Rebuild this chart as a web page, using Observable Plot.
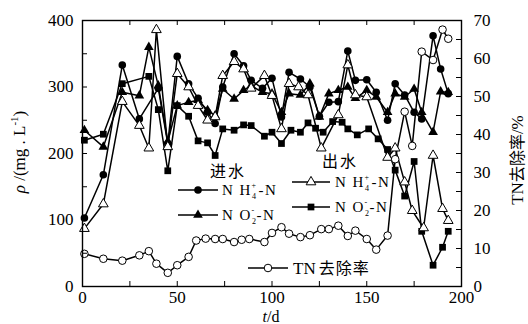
<!DOCTYPE html>
<html><head><meta charset="utf-8">
<script src="https://cdn.jsdelivr.net/npm/d3@7"></script>
<script src="https://cdn.jsdelivr.net/npm/@observablehq/plot@0.6"></script>
<style>body{margin:0;background:#fff}</style>
</head><body><div id="chart"></div>
<script>
// Tick values
const xTicks = [0, 50, 100, 150, 200];
const yTicks = [0, 100, 200, 300, 400];
const tnTicks = [0, 10, 20, 30, 40, 50, 60, 70];

// 进水 NH4+-N (filled circle)
const inNH4Days = [1, 11, 21, 30, 40, 45, 50, 56, 61, 66, 70, 74, 80, 85, 89, 95, 100, 105, 109, 115, 120, 125, 130, 135, 140, 144, 150, 155, 161, 165, 170, 175, 179, 185, 189, 193];
const inNH4 = [103, 168, 333, 252, 298, 215, 346, 305, 283, 262, 245, 300, 350, 332, 310, 298, 313, 255, 322, 312, 300, 256, 277, 278, 354, 310, 311, 292, 250, 305, 288, 262, 252, 377, 327, 290];

// 进水 NO2--N (filled triangle)
const inNO2Days = [1, 11, 21, 30, 35, 40, 45, 50, 56, 61, 66, 70, 74, 80, 85, 89, 95, 100, 105, 109, 115, 120, 125, 130, 135, 140, 144, 150, 155, 161, 165, 170, 175, 179, 185, 189, 193];
const inNO2 = [235, 210, 292, 287, 360, 302, 218, 272, 277, 280, 265, 257, 297, 282, 295, 302, 292, 290, 262, 290, 288, 305, 255, 290, 295, 300, 283, 295, 285, 262, 290, 285, 297, 262, 232, 293, 292];

// 出水 NH4+-N (open triangle)
const outNH4Days = [1, 11, 21, 30, 35, 39, 45, 50, 56, 61, 66, 70, 74, 80, 85, 89, 96, 100, 105, 109, 114, 119, 126, 135, 140, 144, 150, 161, 165, 170, 174, 180, 185, 190, 193];
const outNH4 = [87, 124, 278, 242, 208, 386, 210, 320, 300, 272, 250, 255, 317, 338, 327, 298, 317, 287, 237, 305, 300, 288, 208, 258, 333, 288, 285, 194, 208, 157, 114, 88, 197, 117, 99];

// 出水 NO2--N (filled square)
const outNO2Days = [1, 11, 21, 35, 40, 45, 50, 56, 61, 66, 70, 74, 80, 85, 89, 96, 100, 105, 110, 115, 119, 123, 127, 132, 137, 140, 145, 151, 156, 161, 165, 170, 175, 179, 185, 190, 193];
const outNO2 = [220, 229, 305, 316, 266, 174, 272, 256, 219, 216, 197, 237, 235, 243, 242, 226, 232, 215, 235, 232, 246, 238, 232, 248, 247, 237, 228, 237, 222, 206, 175, 136, 188, 83, 32, 59, 83];

// TN 去除率 (%), right axis (open circle)
const tnDays = [1, 11, 21, 30, 35, 39, 45, 50, 56, 60, 65, 70, 74, 80, 84, 88, 96, 100, 105, 109, 115, 120, 126, 130, 135, 140, 144, 150, 155, 161, 165, 170, 174, 179, 185, 190, 193];
const tnRate = [8.6, 7.3, 6.8, 8.2, 9.3, 6.0, 3.6, 5.6, 7.8, 12.1, 12.6, 12.5, 12.5, 11.7, 12.3, 12.5, 11.7, 14.1, 15.6, 13.9, 13.0, 13.5, 15.1, 15.1, 16.0, 13.3, 14.7, 12.5, 9.7, 13.4, 33.5, 46.0, 37.0, 61.8, 59.6, 67.6, 65.2];

const k = 400 / 70; // right axis (0–70 %) mapped onto left scale (0–400)
const zip = (ts, vs) => ts.map((t, i) => ({t, v: vs[i]}));
const dIn4 = zip(inNH4Days, inNH4);
const dIn2 = zip(inNO2Days, inNO2);
const dOut4 = zip(outNH4Days, outNH4);
const dOut2 = zip(outNO2Days, outNO2);
const dTN = zip(tnDays, tnRate.map(v => v * k));

const W = 528, H = 324, mL = 82, mR = 67, mT = 20, mB = 38;
const iw = W - mL - mR, ih = H - mT - mB;
const lineOpt = {x: "t", y: "v", stroke: "#000", strokeWidth: 1.5};

const plot = Plot.plot({
  width: W, height: H, marginLeft: mL, marginRight: mR, marginTop: mT, marginBottom: mB,
  style: {fontFamily: "'Liberation Serif', serif", fontSize: "17px", background: "#fff", color: "#000", overflow: "visible"},
  x: {domain: [0, 200], axis: null},
  y: {domain: [0, 400], axis: null},
  marks: [
    Plot.line(dTN, lineOpt),
    Plot.line(dOut2, lineOpt),
    Plot.line(dIn2, lineOpt),
    Plot.line(dIn4, lineOpt),
    Plot.line(dOut4, lineOpt),
    Plot.dot(dOut2, {x: "t", y: "v", symbol: "square", r: 3.8, fill: "#000", stroke: "none"}),
    Plot.dot(dIn2, {x: "t", y: "v", symbol: "triangle", r: 3.6, fill: "#000", stroke: "none"}),
    Plot.dot(dIn4, {x: "t", y: "v", symbol: "circle", r: 3.8, fill: "#000", stroke: "none"}),
    Plot.dot(dOut4, {x: "t", y: "v", symbol: "triangle", r: 3.6, fill: "#fff", stroke: "#000", strokeWidth: 1}),
    Plot.dot(dTN, {x: "t", y: "v", symbol: "circle", r: 3.8, fill: "#fff", stroke: "#000", strokeWidth: 1}),
    // inward ticks
    Plot.tickX(d3.range(0, 201, 25), {x: d => d, insetTop: ih - 5, stroke: "#000"}),
    Plot.tickX(d3.range(0, 201, 25), {x: d => d, insetBottom: ih - 5, stroke: "#000"}),
    Plot.tickY(d3.range(0, 401, 50), {y: d => d, insetRight: iw - 5, stroke: "#000"}),
    Plot.tickY(d3.range(0, 71, 5).map(v => v * k), {y: d => d, insetLeft: iw - 5, stroke: "#000"}),
    Plot.frame({stroke: "#000", strokeWidth: 1.4}),
    Plot.axisX(xTicks, {tickSize: 0, tickPadding: 4, label: null}),
    Plot.axisY(yTicks, {anchor: "left", tickSize: 0, tickPadding: 9, label: null}),
    Plot.axisY(tnTicks.map(v => v * k), {anchor: "right", tickSize: 0, tickPadding: 12, tickFormat: d => Math.round(d / k), label: null})
  ]
});
document.getElementById("chart").appendChild(plot);

// Titles and legend
const svg = d3.select(plot);
const serif = "'Liberation Serif', serif";
const cjk = "'Noto Sans CJK SC', sans-serif";

// y label
const yl = svg.append("text").attr("transform", "translate(25,152) rotate(-90)")
  .attr("text-anchor", "middle").attr("font-family", serif).attr("font-size", 17).attr("fill", "#000");
yl.append("tspan").attr("font-style", "italic").text("ρ");
yl.append("tspan").text(" /(mg . L");
yl.append("tspan").attr("font-size", 11).attr("dy", -7).text("-1");
yl.append("tspan").attr("dy", 7).text(")");

// right label
const rl = svg.append("text").attr("transform", "translate(523,160) rotate(-90)")
  .attr("text-anchor", "middle").attr("font-size", 17).attr("fill", "#000");
rl.append("tspan").attr("font-family", serif).text("TN");
rl.append("tspan").attr("font-family", cjk).attr("font-size", 16).text("去除率");
rl.append("tspan").attr("font-family", serif).text("/%");

// x label
const xl = svg.append("text").attr("x", 271).attr("y", 322).attr("text-anchor", "middle")
  .attr("font-family", serif).attr("font-size", 16).attr("fill", "#000");
xl.append("tspan").attr("font-style", "italic").text("t");
xl.append("tspan").text("/d");

const lg = svg.append("g").attr("fill", "#000");
function heading(x, y, s) {
  lg.append("text").attr("x", x).attr("y", y).attr("text-anchor", "middle").attr("dominant-baseline", "central")
    .attr("font-family", cjk).attr("font-size", 16).attr("letter-spacing", 2).text(s);
}
function swatch(x1, x2, y, sym, fill) {
  lg.append("line").attr("x1", x1).attr("x2", x2).attr("y1", y).attr("y2", y).attr("stroke", "#000").attr("stroke-width", 1.5);
  const r = sym === d3.symbolTriangle ? 3.6 : 3.8;
  lg.append("path").attr("d", d3.symbol(sym, Math.PI * r * r)()).attr("transform", `translate(${(x1 + x2) / 2},${y})`)
    .attr("fill", fill).attr("stroke", fill === "#fff" ? "#000" : "none");
}
function chem(x, y, sub, sup, base2) {
  const t = lg.append("text").attr("x", x).attr("y", y + 5).attr("text-anchor", "start")
    .attr("font-family", serif).attr("font-size", 15).attr("letter-spacing", 1.5);
  t.append("tspan").text(base2);
  t.append("tspan").attr("font-size", 8).attr("dy", 4).text(sub);
  t.append("tspan").attr("font-size", 8).attr("dx", -6).attr("dy", -11).text(sup);
  t.append("tspan").attr("dy", 7).attr("dx", 1).text("-N");
}
heading(228, 170, "进水");
swatch(178, 218, 190, d3.symbolCircle, "#000");
chem(222, 190, "4", "+", "N H");
swatch(178, 218, 215, d3.symbolTriangle, "#000");
chem(222, 215, "2", "-", "N O");

heading(340, 160, "出水");
swatch(292, 330, 182, d3.symbolTriangle, "#fff");
chem(335, 182, "4", "+", "N H");
swatch(292, 330, 207, d3.symbolSquare, "#000");
chem(335, 207, "2", "-", "N O");

swatch(248, 288, 268, d3.symbolCircle, "#fff");
const tl = lg.append("text").attr("x", 293).attr("y", 274).attr("text-anchor", "start").attr("font-size", 17);
tl.append("tspan").attr("font-family", serif).text("TN");
tl.append("tspan").attr("font-family", cjk).attr("font-size", 16).attr("dx", 3).attr("letter-spacing", 1).text("去除率");
</script>
</body></html>
